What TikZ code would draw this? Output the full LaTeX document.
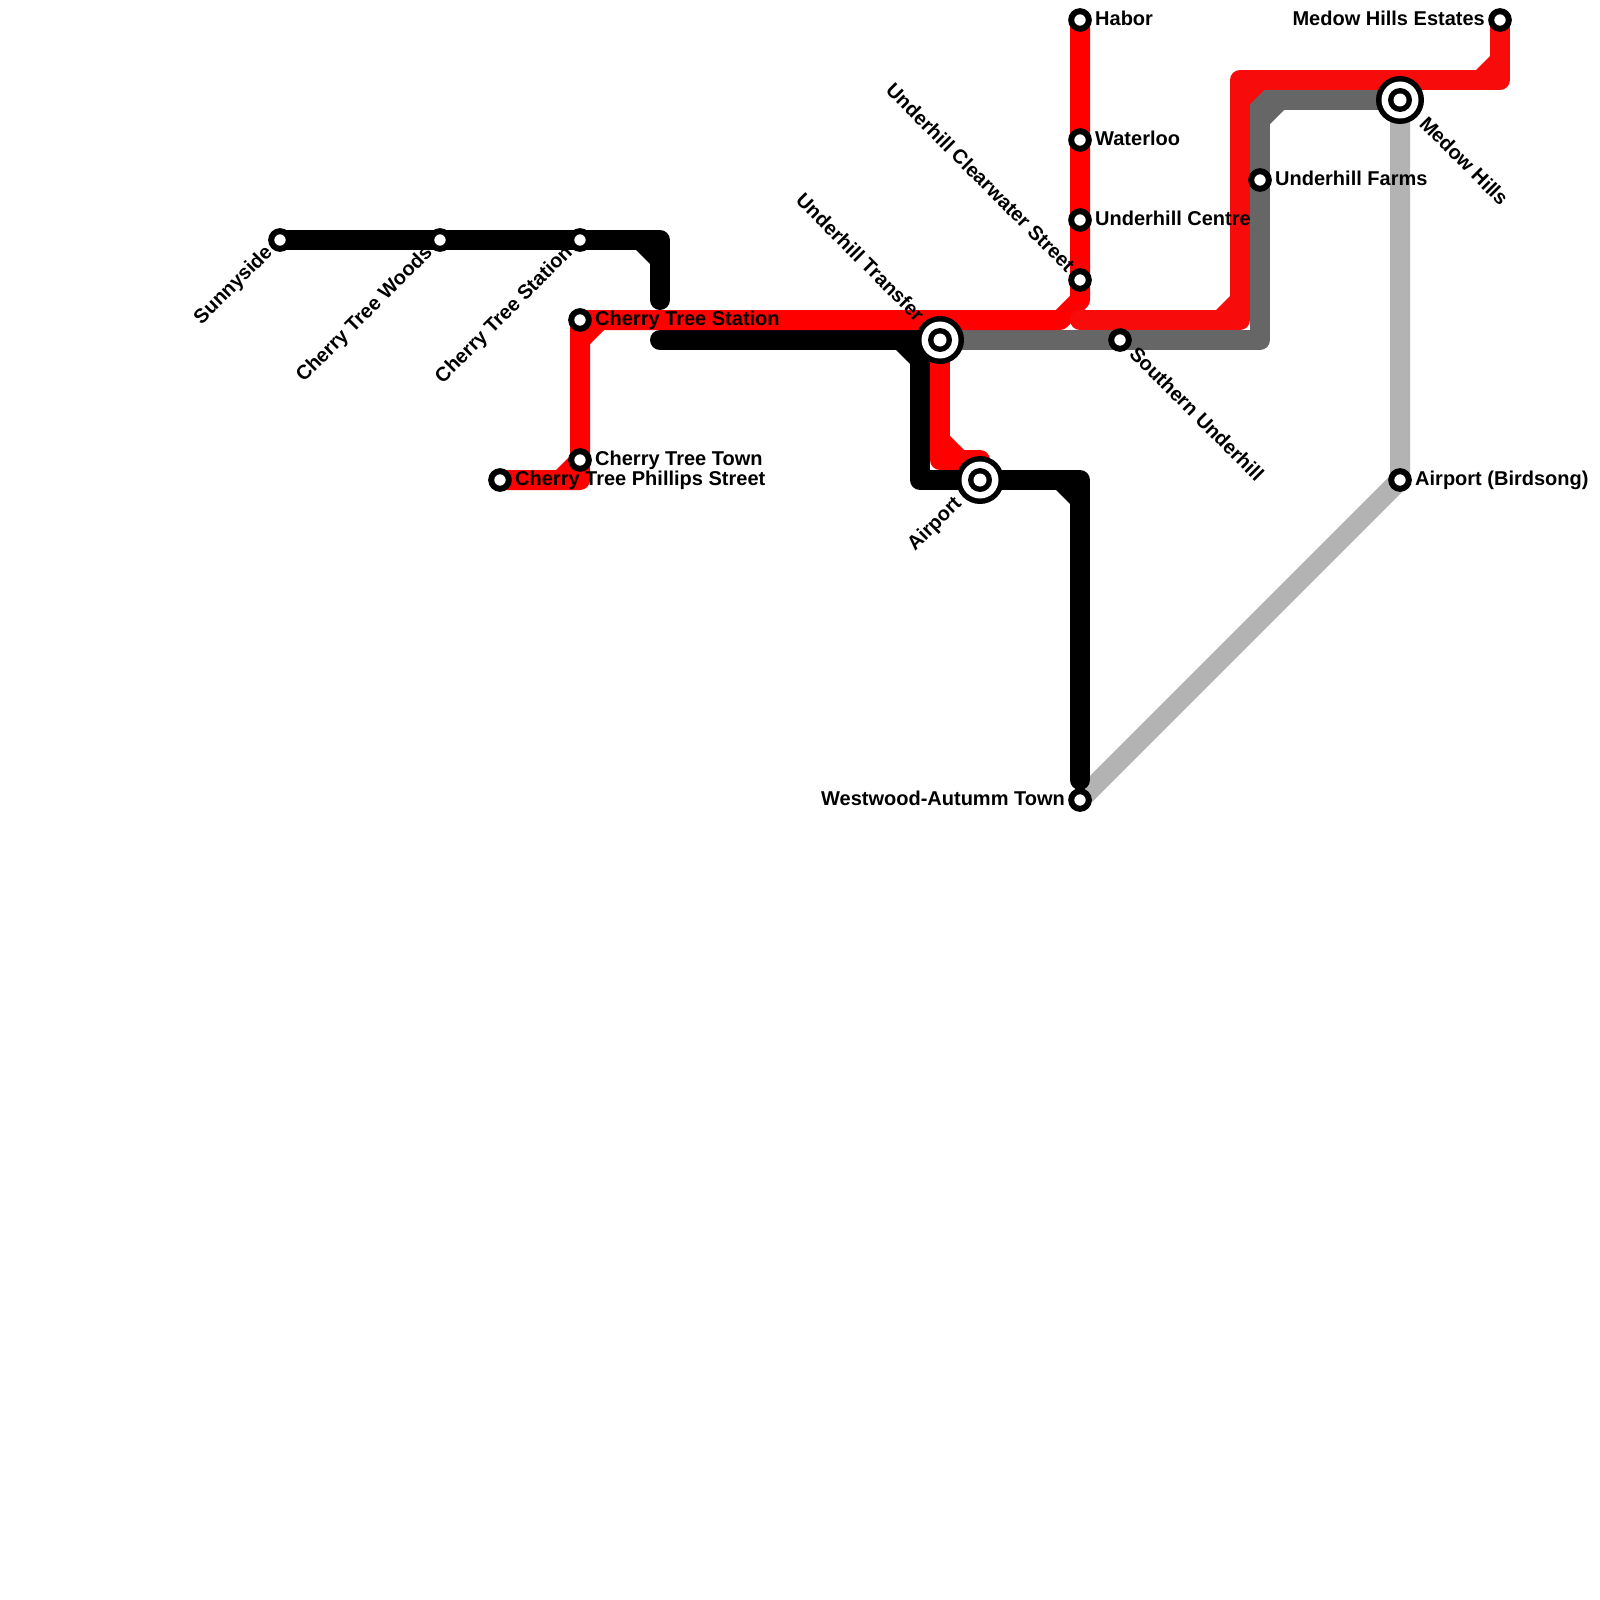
\documentclass[tikz,border=0pt]{standalone}
\usepackage{fontspec}
\setmainfont{Liberation Sans}[BoldFont={Liberation Sans Bold}]
\definecolor{redA}{RGB}{255,0,0}
\definecolor{redB}{RGB}{248,11,11}
\definecolor{darkg}{RGB}{102,102,102}
\definecolor{lightg}{RGB}{179,179,179}
\tikzset{
  metro/.style={line width=20pt,line cap=round,line join=round},
  stationdot/.style={circle,draw=black,fill=white,line width=6pt,minimum size=17.6pt,inner sep=0pt},
  lab/.style={font=\fontsize{20}{22}\selectfont\bfseries,text=black,inner sep=0pt,text height=11.4pt,text depth=0pt},
  labr/.style={lab,anchor=west},
  labl/.style={lab,anchor=east},
  tilted/.style={text height=9.6pt,rotate=#1},
}
\newcommand\hub[2]{%
  \fill[black] (#1) circle[radius=24pt];
  \fill[white] (#1) circle[radius=18.5pt];
  \fill[black] (#1) circle[radius=12pt];
  \node[circle,fill=white,minimum size=13pt,inner sep=0pt] (#2) at (#1) {};
}
\begin{document}
\begin{tikzpicture}[x=1pt,y=-1pt]
\useasboundingbox (0,0) rectangle (1600,1600);
\fill[white] (0,0) rectangle (1600,1600);
% station positions
\coordinate (pSun) at (280,240);
\coordinate (pWoods) at (440,240);
\coordinate (pCTSb) at (580,240);
\coordinate (pCTS) at (580,320);
\coordinate (pCTT) at (580,460);
\coordinate (pCTP) at (500,480);
\coordinate (pUT) at (940,340);
\coordinate (pAir) at (980,480);
\coordinate (pWest) at (1080,800);
\coordinate (pHab) at (1080,20);
\coordinate (pWat) at (1080,140);
\coordinate (pCen) at (1080,220);
\coordinate (pClr) at (1080,280);
\coordinate (pSou) at (1120,340);
\coordinate (pFar) at (1260,180);
\coordinate (pMH) at (1400,100);
\coordinate (pEst) at (1500,20);
\coordinate (pBird) at (1400,480);
% light grey line
\draw[metro,lightg] (pMH) -- (pBird) -- (pWest);
% dark grey line
\draw[metro,darkg] (pUT) -- (pSou) -- (1260,340) -- (pFar) -- (1260,100) -- (pMH);
\fill[darkg] (1270,124) -- (1284,110) -- (1265,105) -- cycle;
% black lines
\draw[metro,black] (pSun) -- (pWoods) -- (pCTSb) -- (660,240) -- (660,300);
\fill[black] (636,250) -- (650,264) -- (655,245) -- cycle;
\draw[metro,black] (660,340) -- (920,340) -- (920,480) -- (pAir) -- (1080,480) -- (1080,780);
\fill[black] (896,350) -- (910,364) -- (915,345) -- cycle;
\fill[black] (1056,490) -- (1070,504) -- (1075,485) -- cycle;
% red lines
\draw[metro,redA] (pCTP) -- (580,480) -- (pCTT) -- (pCTS) -- (pUT |- pCTS) -- (1060,320) -- (1080,300) -- (pClr) -- (pCen) -- (pWat) -- (pHab);
\fill[redA] (556,470) -- (570,456) -- (575,475) -- cycle;
\fill[redA] (590,344) -- (604,330) -- (585,325) -- cycle;
\draw[metro,redA] (pUT) -- (940,460) -- (980,460);
\fill[redA] (950,436) -- (964,450) -- (945,455) -- cycle;
\draw[metro,redB] (1080,320) -- (1240,320) -- (1240,80) -- (1500,80) -- (pEst);
\fill[redB] (1216,310) -- (1230,296) -- (1235,315) -- cycle;
\fill[redB] (1250,104) -- (1264,90) -- (1245,85) -- cycle;
\fill[redB] (1476,70) -- (1490,56) -- (1495,75) -- cycle;
% stations
\foreach \p/\n in {pSun/sSun,pWoods/sWoods,pCTSb/sCTSb,pCTS/sCTS,pCTT/sCTT,pCTP/sCTP,pWest/sWest,pHab/sHab,pWat/sWat,pCen/sCen,pClr/sClr,pSou/sSou,pFar/sFar,pEst/sEst,pBird/sBird}
  \node[stationdot] (\n) at (\p) {};
\hub{pUT}{sUT}
\hub{pAir}{sAir}
\hub{pMH}{sMH}
% labels
\node[labr] (tHab) at ([xshift=15pt]pHab) {Habor};
\node[labr] (tWat) at ([xshift=15pt]pWat) {Waterloo};
\node[labr] (tCen) at ([xshift=15pt]pCen) {Underhill Centre};
\node[labr] (tFar) at ([xshift=15pt]pFar) {Underhill Farms};
\node[labr] (tCTS) at ([xshift=15pt]pCTS) {Cherry Tree Station};
\node[labr] (tCTT) at ([xshift=15pt]pCTT) {Cherry Tree Town};
\node[labr] (tCTP) at ([xshift=15pt]pCTP) {Cherry Tree Phillips Street};
\node[labr] (tBird) at ([xshift=15pt]pBird) {Airport (Birdsong)};
\node[labl] (tEst) at ([xshift=-15pt]pEst) {Medow Hills Estates};
\node[labl] (tWest) at ([xshift=-15pt]pWest) {Westwood-Autumm Town};
\node[labl,tilted=45] (tSun) at ([shift={(-10,10)}]pSun) {Sunnyside};
\node[labl,tilted=45] (tWoods) at ([shift={(-10,10)}]pWoods) {Cherry Tree Woods};
\node[labl,tilted=45] (tCTSb) at ([shift={(-10,10)}]pCTSb) {Cherry Tree Station};
\node[labl,tilted=45] (tAir) at ([shift={(-21,21)}]pAir) {Airport};
\node[labl,tilted=-45] (tClr) at ([shift={(-10,-10)}]pClr) {Underhill Clearwater Street};
\node[labl,tilted=-45] (tUT) at ([shift={(-20.5,-20.5)}]pUT) {Underhill Transfer};
\node[labr,tilted=-45] (tSou) at ([shift={(11.5,11.5)}]pSou) {Southern Underhill};
\node[labr,tilted=-45] (tMH) at ([shift={(21.5,21.5)}]pMH) {Medow Hills};
\end{tikzpicture}
\end{document}
